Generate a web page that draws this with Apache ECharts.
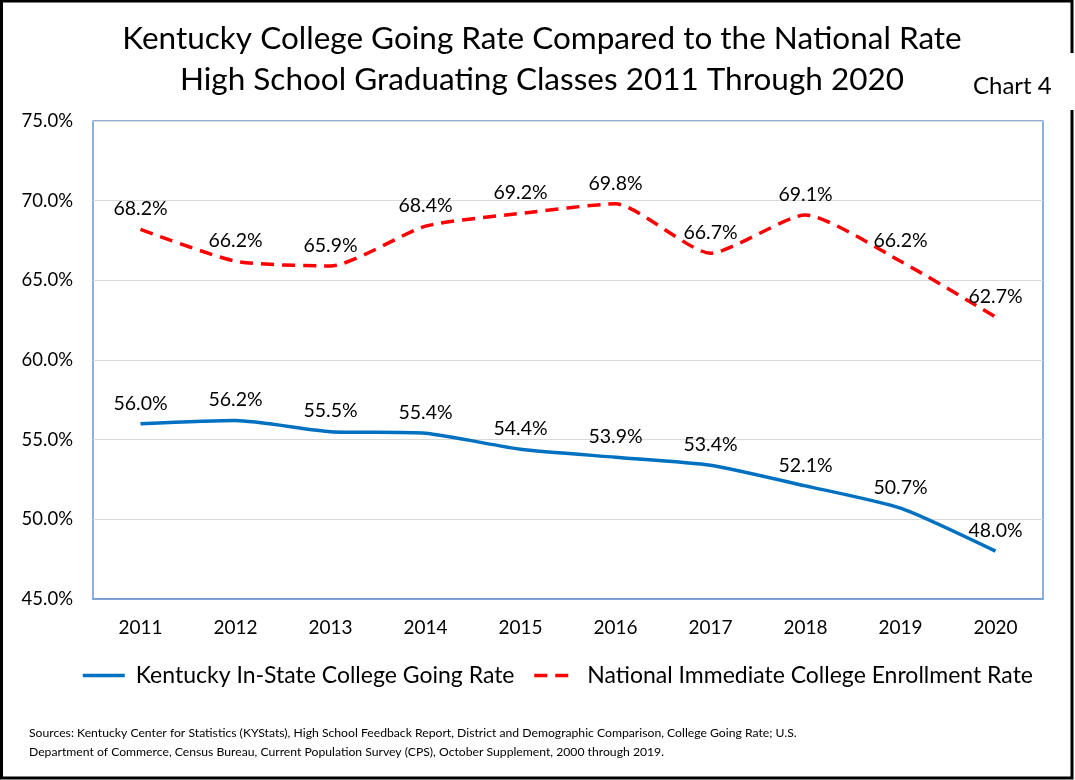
<!DOCTYPE html>
<html>
<head>
<meta charset="utf-8">
<script src="https://cdn.jsdelivr.net/npm/echarts@6/dist/echarts.min.js"></script>
<style>
  html, body { margin: 0; padding: 0; background: #fff; }
  #chart { width: 1075px; height: 780px; }
</style>
</head>
<body>
<div id="chart"></div>
<script>
var years = ['2011', '2012', '2013', '2014', '2015', '2016', '2017', '2018', '2019', '2020'];
var kentuckyRate = [56.0, 56.2, 55.5, 55.4, 54.4, 53.9, 53.4, 52.1, 50.7, 48.0];
var nationalRate = [68.2, 66.2, 65.9, 68.4, 69.2, 69.8, 66.7, 69.1, 66.2, 62.7];

var font = 'Lato';
var chart = echarts.init(document.getElementById('chart'));

function pct(p) { return p.value.toFixed(1) + '%'; }

var pointLabel = {
  show: true,
  position: 'top',
  distance: 10,
  fontFamily: font,
  fontSize: 19.5,
  color: '#000',
  formatter: pct
};

chart.setOption({
  backgroundColor: '#fff',
  animation: false,
  textStyle: { fontFamily: font, color: '#000' },
  title: [{
    text: 'Kentucky College Going Rate Compared to the National Rate\nHigh School Graduating Classes 2011 Through 2020',
    left: 537,
    top: 13,
    textAlign: 'center',
    textStyle: { fontFamily: font, fontSize: 31.5, fontWeight: 'normal', lineHeight: 41, color: '#000' }
  }, {
    text: 'Chart 4',
    left: 968,
    top: 69,
    textStyle: { fontFamily: font, fontSize: 24, fontWeight: 'normal', color: '#000' }
  }, {
    text: 'Sources: Kentucky Center for Statistics (KYStats), High School Feedback Report, District and Demographic Comparison, College Going Rate; U.S.\nDepartment of Commerce, Census Bureau, Current Population Survey (CPS), October Supplement, 2000 through 2019.',
    left: 24,
    top: 719,
    textStyle: { fontFamily: font, fontSize: 12.2, fontWeight: 'normal', lineHeight: 19, color: '#000' }
  }],
  legend: {
    bottom: 88,
    left: 76,
    itemWidth: 42,
    itemHeight: 14,
    itemGap: 18,
    itemStyle: { opacity: 0 },
    lineStyle: { width: 3.5 },
    textStyle: { fontFamily: font, fontSize: 23, color: '#000', padding: [0, 0, 0, 6] },
    data: ['Kentucky In-State College Going Rate', 'National Immediate College Enrollment Rate']
  },
  grid: {
    left: 93,
    right: 32,
    top: 121,
    bottom: 181,
    show: true,
    borderColor: '#6a95cf',
    borderWidth: 1.5
  },
  xAxis: {
    type: 'category',
    data: years,
    boundaryGap: true,
    axisLine: { show: true, lineStyle: { color: '#6a95cf', width: 1.5 } },
    axisTick: { show: false },
    axisLabel: { fontFamily: font, fontSize: 19, color: '#000', margin: 19 }
  },
  yAxis: {
    type: 'value',
    min: 45,
    max: 75,
    interval: 5,
    axisLine: { show: false },
    axisTick: { show: false },
    splitLine: { lineStyle: { color: '#d9d9d9', width: 1 } },
    axisLabel: {
      fontFamily: font, fontSize: 18.5, color: '#000', margin: 20,
      formatter: function (v) { return v.toFixed(1) + '%'; }
    }
  },
  series: [{
    name: 'Kentucky In-State College Going Rate',
    type: 'line',
    data: kentuckyRate,
    smooth: 0.2,
    symbol: 'circle',
    symbolSize: 1,
    lineStyle: { color: '#0070c0', width: 3.5 },
    itemStyle: { color: 'rgba(0,0,0,0)' },
    label: pointLabel
  }, {
    name: 'National Immediate College Enrollment Rate',
    type: 'line',
    data: nationalRate,
    smooth: 0.2,
    symbol: 'circle',
    symbolSize: 1,
    lineStyle: { color: '#ff0000', width: 3.5, type: [13, 8] },
    itemStyle: { color: 'rgba(0,0,0,0)' },
    label: pointLabel
  }],
  graphic: [{
    type: 'polyline',
    shape: { points: [[1072, 53], [1072, 1], [1.5, 1], [1.5, 778], [1072, 778], [1072, 110]] },
    style: { stroke: '#000', lineWidth: 3, fill: null }
  }]
});
</script>
</body>
</html>
